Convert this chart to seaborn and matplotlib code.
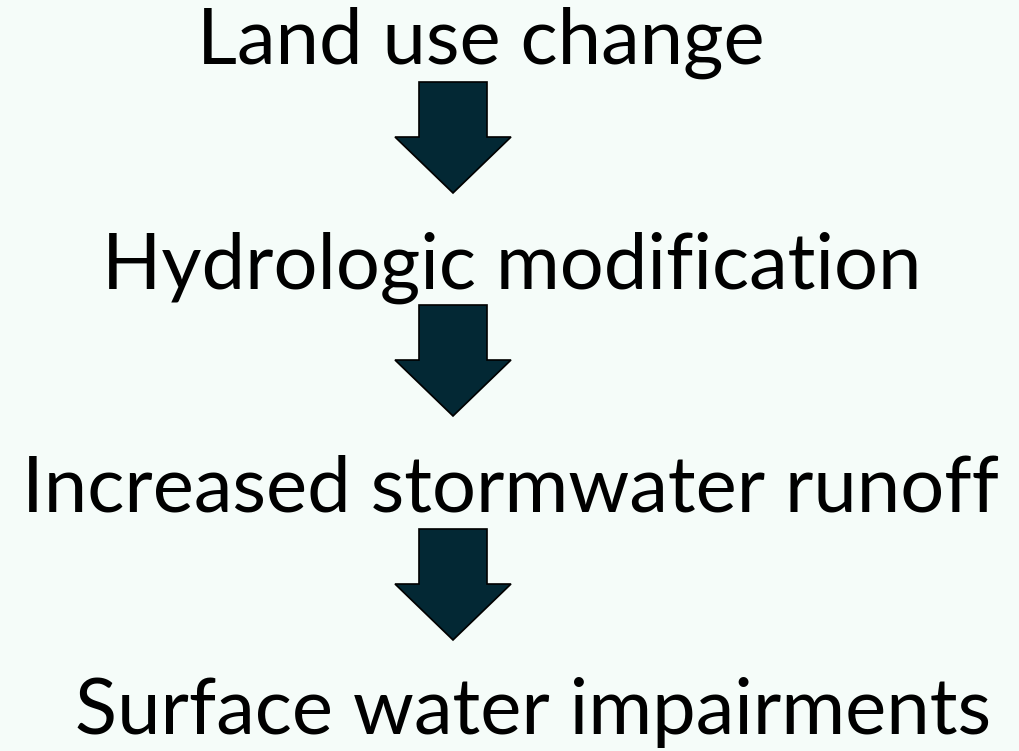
"""
Flow of urbanisation impacts: land use change down to surface water impairments.
"""
import matplotlib
matplotlib.use("Agg")
import matplotlib.pyplot as plt
from matplotlib.patches import Polygon
import seaborn as sns


STEPS = ["Land use change", "Hydrologic modification",
         "Increased stormwater runoff", "Surface water impairments"]
STEP_Y = [64, 289, 511, 734]          # text baselines (px from top)
STEP_X = [481, 512, 511, 533]         # text centres (px)
ARROW_TOP = [82, 305, 529]            # shaft tops (px)

ARROW_COLOR = "#032834"
BG_COLOR = "#F5FCF9"


def draw_arrow(ax, top, cx=453):
    shaft_w, head_w = 68, 116
    shaft_len, head_len = 55, 56
    pts = [(cx - shaft_w / 2, top), (cx + shaft_w / 2, top),
           (cx + shaft_w / 2, top + shaft_len), (cx + head_w / 2, top + shaft_len),
           (cx, top + shaft_len + head_len),
           (cx - head_w / 2, top + shaft_len), (cx - shaft_w / 2, top + shaft_len)]
    ax.add_patch(Polygon(pts, closed=True, facecolor=ARROW_COLOR,
                         edgecolor="#000000", linewidth=1.2, joinstyle="miter"))


def main():
    sns.set_theme(style="white")
    plt.rcParams['font.family'] = ['Lato', 'DejaVu Sans']
    fig = plt.figure(figsize=(10.2, 7.51), dpi=100)
    fig.patch.set_facecolor(BG_COLOR)
    ax = fig.add_axes([0, 0, 1, 1])
    ax.set_facecolor(BG_COLOR)
    ax.set_xlim(0, 1020)
    ax.set_ylim(751, 0)
    ax.axis("off")

    for label, x, y in zip(STEPS, STEP_X, STEP_Y):
        ax.text(x, y, label, ha="center", va="baseline",
                fontsize=56, color="black")
    for top in ARROW_TOP:
        draw_arrow(ax, top)

    fig.savefig("out.png", dpi=100, facecolor=BG_COLOR)


if __name__ == "__main__":
    main()
